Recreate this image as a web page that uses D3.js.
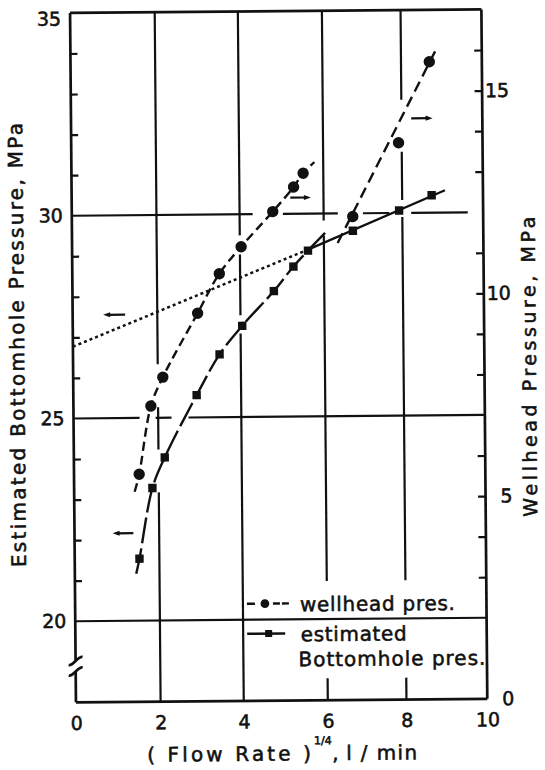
<!DOCTYPE html>
<html>
<head>
<meta charset="utf-8">
<script src="https://cdn.jsdelivr.net/npm/d3@7"></script>
<style>
body { margin: 0; background: #fff; }
svg text { font-family: "DejaVu Sans", sans-serif; fill: #111; stroke: #111; stroke-width: 0.55px; }
</style>
</head>
<body>
<svg id="chart" width="545" height="770"></svg>
<script>
// values: x = (flow rate)^1/4, pressures in MPa
const wellheadX = [1.54, 1.83, 2.12, 2.97, 3.50, 4.03, 4.79, 5.29, 5.52, 6.74, 7.92, 8.70];
const wellheadP = [5.61, 7.29, 8.00, 9.57, 10.54, 11.20, 12.06, 12.66, 13.00, 11.92, 13.73, 15.72];
const bottomX = [1.53, 1.85, 2.15, 2.93, 3.49, 4.04, 4.80, 5.27, 5.62, 6.74, 7.92, 8.73];
const bottomP = [21.53, 23.27, 24.02, 25.55, 26.55, 27.25, 28.10, 28.70, 29.09, 29.57, 30.06, 30.43];

// hand drawn curves: ends of the fitted lines (x, MPa)
const wellheadCurveEnds = [[1.43, 5.18], [5.79, 13.27]];
const wellheadLineEnds = [[6.35, 11.27], [8.91, 16.10]];
const bottomCurveEnds = [[1.45, 21.16], [6.05, 29.54]];
const bottomLineEnds = [[0, 26.77], [9.06, 30.55]];
const bottomLineSolidFrom = 5.62;

// small arrows telling which axis a curve belongs to
const arrowMarks = [
    { from: 1.24, to: 0.72, p: 27.55, axis: "left" },
    { from: 1.39, to: 0.90, p: 22.16, axis: "left" },
    { from: 5.21, to: 5.70, p: 12.40, axis: "right" },
    { from: 8.24, to: 8.77, p: 14.33, axis: "right" }
];

const xTicks = [0, 2, 4, 6, 8, 10];
const leftTicks = [20, 25, 30, 35];
const rightTicks = [0, 5, 10, 15];
const leftMinor = [21, 22, 23, 24, 26, 27, 28, 29, 31, 32, 33, 34];
const rightMinor = [3, 4, 5, 6, 8, 9, 10, 11, 13, 14, 15, 16];

// grid lines, drawn with the gaps of the original drawing
const vGrid = [
    { x: 2, spans: [[18, 23.16], [24.22, 25.26], [26.32, 35]] },
    { x: 4, spans: [[18, 27.06], [27.51, 29.01], [29.48, 35]] },
    { x: 6, spans: [[18, 18.54], [20.94, 29.46], [29.83, 35]] },
    { x: 8, spans: [[18, 18.54], [20.94, 29.9], [30.32, 31.51], [32.79, 35]] }
];
const hGrid = [
    { y: 30, spans: [[0, 4.31], [5.03, 6.36], [7.0, 7.67], [8.22, 9.62]] },
    { y: 25, spans: [[0, 1.56], [1.94, 2.32], [2.73, 10]] },
    { y: 20, spans: [[0, 10]] }
];

const legendLabels = ["wellhead pres.", "estimated", "Bottomhole pres."];

const svg = d3.select("#chart");
const L = 73, T = 11.2, W = 411.35, H = 689.4;
const B = T + H, R = L + W;
const gridOffsets = [0, 84.65, 167.8, 251.85, 330.5, 411.35]; // drawn grid is a bit uneven

const x = d3.scaleLinear().domain(xTicks).range(gridOffsets.map(d => L + d));
const yLeft = d3.scaleLinear().domain([18, 35]).range([B, T]);
const yRight = d3.scaleLinear().domain([0, 17]).range([B, T]);

// the scanned page is slightly tilted
const g = svg.append("g").attr("transform", `rotate(-0.49, ${L + W / 2}, ${T + H / 2})`);

// grid
vGrid.forEach(v => {
    v.spans.forEach(s => {
        g.append("line")
            .attr("x1", x(v.x)).attr("x2", x(v.x))
            .attr("y1", yLeft(s[0])).attr("y2", yLeft(s[1]))
            .attr("stroke", "#111").attr("stroke-width", 2.2);
    });
});
hGrid.forEach(h => {
    h.spans.forEach(s => {
        g.append("line")
            .attr("x1", x(s[0])).attr("x2", x(s[1]))
            .attr("y1", yLeft(h.y)).attr("y2", yLeft(h.y))
            .attr("stroke", "#111").attr("stroke-width", 2.2);
    });
});

// frame
const frame = g.append("g").attr("stroke", "#111").attr("stroke-width", 2.7).attr("fill", "none");
frame.append("line").attr("x1", L).attr("x2", R).attr("y1", T).attr("y2", T);
frame.append("line").attr("x1", L).attr("x2", R).attr("y1", B).attr("y2", B);
frame.append("line").attr("x1", R).attr("x2", R).attr("y1", T).attr("y2", B);
frame.append("line").attr("x1", L).attr("x2", L).attr("y1", T).attr("y2", yLeft(19.02));
frame.append("line").attr("x1", L).attr("x2", L).attr("y1", yLeft(18.76)).attr("y2", B);
[19.02, 18.76].forEach(v => {
    const yy = yLeft(v);
    frame.append("path")
        .attr("d", `M${L - 7},${yy + 4} C${L - 2},${yy + 5} ${L + 2},${yy - 5} ${L + 7},${yy - 4}`);
});

// minor ticks, pointing in
const leftTickAxis = g.append("g").attr("transform", `translate(${L},0)`)
    .call(d3.axisLeft(yLeft).tickValues(leftMinor).tickSize(-7).tickFormat(""));
const rightTickAxis = g.append("g").attr("transform", `translate(${R},0)`)
    .call(d3.axisRight(yRight).tickValues(rightMinor).tickSize(-7.5).tickFormat(""));
[leftTickAxis, rightTickAxis].forEach(a => {
    a.select(".domain").remove();
    a.selectAll("line").attr("stroke", "#111").attr("stroke-width", 2.2);
});

// tick labels
const leftLabels = g.append("g").attr("transform", `translate(${L},0)`)
    .call(d3.axisLeft(yLeft).tickValues(leftTicks).tickSize(0).tickPadding(9));
const rightLabels = g.append("g").attr("transform", `translate(${R},0)`)
    .call(d3.axisRight(yRight).tickValues(rightTicks).tickSize(0));
const bottomLabels = g.append("g").attr("transform", `translate(0,${B})`)
    .call(d3.axisBottom(x).tickValues(xTicks).tickSize(0).tickPadding(14));
[leftLabels, rightLabels, bottomLabels].forEach(a => {
    a.select(".domain").remove();
    a.attr("font-family", null).attr("font-size", null);
    a.selectAll("text").style("font-size", "19px").attr("fill", "#111");
});
rightLabels.selectAll("text").attr("x", 27).attr("text-anchor", "end");
// the top label sits a little under its tick
leftLabels.selectAll(".tick").filter(d => d === 35).select("text").attr("y", 6);

// axis titles
g.append("text")
    .attr("transform", `translate(17, ${T + H / 2 - 13}) rotate(-90)`)
    .attr("text-anchor", "middle").attr("dy", "0.36em")
    .attr("textLength", 444).attr("lengthAdjust", "spacing")
    .style("font-size", "20px")
    .text("Estimated Bottomhole Pressure, MPa");
g.append("text")
    .attr("transform", `translate(529, ${T + H / 2 + 13}) rotate(-90)`)
    .attr("text-anchor", "middle").attr("dy", "0.36em")
    .attr("textLength", 300).attr("lengthAdjust", "spacing")
    .style("font-size", "19px")
    .text("Wellhead Pressure, MPa");

const cx = L + W / 2;
g.append("text").attr("x", cx - 135).attr("y", B + 60)
    .attr("textLength", 164).attr("lengthAdjust", "spacing")
    .style("font-size", "20px").text("( Flow Rate )");
g.append("text").attr("x", cx + 32).attr("y", B + 44)
    .style("font-size", "11px").text("1/4");
g.append("text").attr("x", cx + 50).attr("y", B + 60)
    .style("font-size", "20px").text(",");
g.append("text").attr("x", cx + 64).attr("y", B + 60)
    .attr("textLength", 71).attr("lengthAdjust", "spacing")
    .style("font-size", "20px").text("l / min");

// curves
const wellheadPts = wellheadX.map((d, i) => [d, wellheadP[i]]);
const bottomPts = bottomX.map((d, i) => [d, bottomP[i]]);

const lineRight = d3.line().x(d => x(d[0])).y(d => yRight(d[1])).curve(d3.curveCatmullRom.alpha(0.5));
const lineLeft = d3.line().x(d => x(d[0])).y(d => yLeft(d[1])).curve(d3.curveCatmullRom.alpha(0.5));

const curves = g.append("g").attr("fill", "none").attr("stroke", "#111").attr("stroke-width", 2.4);

curves.append("path")
    .attr("d", lineRight([wellheadCurveEnds[0], ...wellheadPts.slice(0, 9), wellheadCurveEnds[1]]))
    .attr("stroke-dasharray", "9,5");
curves.append("path")
    .attr("d", lineRight(wellheadLineEnds))
    .attr("stroke-dasharray", "11,6");
curves.append("path")
    .attr("d", lineLeft([bottomCurveEnds[0], ...bottomPts.slice(0, 9), bottomCurveEnds[1]]))
    .attr("stroke-dasharray", "26,5");

const fit = d3.scaleLinear().domain(bottomLineEnds.map(d => d[0])).range(bottomLineEnds.map(d => d[1]));
const breakPt = [bottomLineSolidFrom, fit(bottomLineSolidFrom)];
curves.append("path")
    .attr("d", lineLeft([bottomLineEnds[0], breakPt]))
    .attr("stroke-dasharray", "3,3").attr("stroke-width", 2.5);
curves.append("path")
    .attr("d", lineLeft([breakPt, bottomLineEnds[1]]));

// markers
g.append("g").selectAll("circle")
    .data(wellheadPts)
    .join("circle")
    .attr("cx", d => x(d[0]))
    .attr("cy", d => yRight(d[1]))
    .attr("r", 5.7)
    .attr("fill", "#111");

g.append("g").selectAll("rect")
    .data(bottomPts)
    .join("rect")
    .attr("x", d => x(d[0]) - 4.2)
    .attr("y", d => yLeft(d[1]) - 4.2)
    .attr("width", 8.4).attr("height", 8.4)
    .attr("fill", "#111");

// arrows
arrowMarks.forEach(a => {
    const ys = a.axis === "left" ? yLeft : yRight;
    const x1 = x(a.from), x2 = x(a.to), yy = ys(a.p);
    const dir = x2 > x1 ? 1 : -1;
    g.append("line").attr("x1", x1).attr("x2", x2 - dir * 4).attr("y1", yy).attr("y2", yy)
        .attr("stroke", "#111").attr("stroke-width", 2.2);
    g.append("path")
        .attr("d", `M${x2},${yy} L${x2 - dir * 7},${yy - 2.6} L${x2 - dir * 7},${yy + 2.6} Z`)
        .attr("fill", "#111");
});

// legend
const lx = x(4), ly = yLeft(20);
const leg = g.append("g").attr("stroke", "#111").attr("stroke-width", 2.4);
leg.append("line").attr("x1", lx + 4).attr("x2", lx + 12).attr("y1", ly - 16).attr("y2", ly - 16);
leg.append("line").attr("x1", lx + 30).attr("x2", lx + 37).attr("y1", ly - 16).attr("y2", ly - 16);
leg.append("line").attr("x1", lx + 39).attr("x2", lx + 46).attr("y1", ly - 16).attr("y2", ly - 16);
leg.append("line").attr("x1", lx + 4).attr("x2", lx + 42).attr("y1", ly + 14).attr("y2", ly + 14);
g.append("circle").attr("cx", lx + 22).attr("cy", ly - 16).attr("r", 4.4).attr("fill", "#111");
g.append("rect").attr("x", lx + 22).attr("y", ly + 10.5).attr("width", 7).attr("height", 7).attr("fill", "#111");

g.append("text").attr("x", lx + 57).attr("y", ly - 8)
    .attr("textLength", 155).attr("lengthAdjust", "spacing")
    .style("font-size", "20px").text(legendLabels[0]);
g.append("text").attr("x", lx + 57.5).attr("y", ly + 22)
    .attr("textLength", 106).attr("lengthAdjust", "spacing")
    .style("font-size", "20px").text(legendLabels[1]);
g.append("text").attr("x", lx + 55).attr("y", ly + 47)
    .attr("textLength", 187).attr("lengthAdjust", "spacing")
    .style("font-size", "20px").text(legendLabels[2]);
</script>
</body>
</html>
